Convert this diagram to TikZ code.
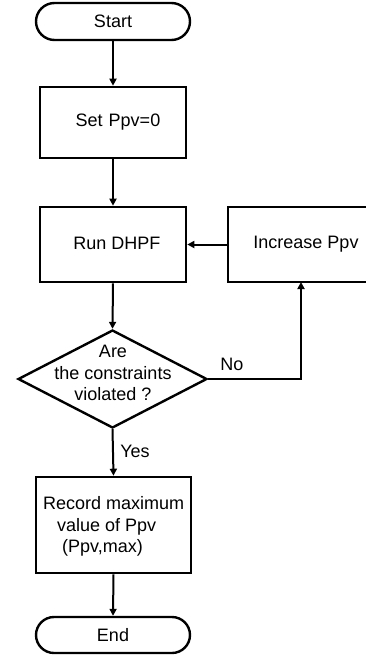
\documentclass[tikz,border=0pt]{standalone}
\usepackage{fontspec}
\setmainfont{Liberation Sans}
\usetikzlibrary{shapes.geometric,shapes.misc,arrows.meta}
\begin{document}
\begin{tikzpicture}[x=1pt,y=-1pt,
  every node/.style={font=\fontsize{18}{21.5}\selectfont, inner sep=0pt},
  box/.style={draw, line width=2.6pt, rectangle},
  term/.style={draw, line width=2.4pt, rounded rectangle},
  dia/.style={draw, line width=2.4pt, diamond},
  arr/.style={line width=2pt, -{Triangle[length=7pt,width=7pt]}},
  lbl/.style={font=\fontsize{18}{21.5}\selectfont}]
\clip (0,0) rectangle (366,656);
\node[term, minimum width=154pt, minimum height=37pt] (start) at (113,21.5) {Start};
\node[box, minimum width=146pt, minimum height=71pt] (set) at (113,122.5) {};
\node (settext) at (118,122) {Set\hspace{6pt}Ppv=0};
\node[box, minimum width=146pt, minimum height=75pt] (run) at (113,244.5) {};
\node (runtext) at (117,243) {Run DHPF};
\node[box, minimum width=156pt, minimum height=75pt] (inc) at (306,244.5) {Increase Ppv};
\node[dia, minimum width=189pt, minimum height=98pt] (dec) at (112.5,379) {};
\node[align=center] (dectext) at (113,373) {Are\\the constraints\\violated ?};
\node[box, minimum width=155pt, minimum height=96pt] (rec) at (113.5,525) {};
\node[align=left, anchor=west] (rectext) at (43,526.5) {Record maximum\\\hspace{14pt}value of Ppv\\\hspace{19pt}(Ppv,max)};
\node[term, minimum width=154pt, minimum height=36pt] (end) at (113,635) {End};
\coordinate (incb) at (301,282);
\draw[arr] (start.south) -- (set.north);
\draw[arr] (set.south) -- (run.north);
\draw[arr] (run.south) -- (dec.north);
\draw[arr] (inc.west) -- (run.east);
\draw[arr] (dec.east) -| (incb);
\draw[arr] (dec.south) -- (rec.north);
\draw[arr] (rec.south) -- (end.north);
\node[lbl] (no) at (232,364) {No};
\node[lbl] (yes) at (135,451) {Yes};
\end{tikzpicture}
\end{document}
